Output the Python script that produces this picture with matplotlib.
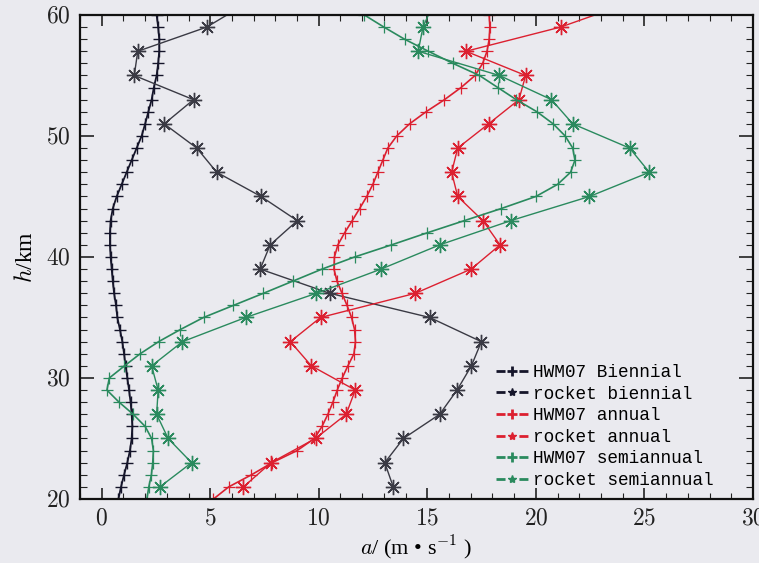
import matplotlib
matplotlib.use('Agg')
import matplotlib.pyplot as plt
from matplotlib.lines import Line2D
from matplotlib.ticker import MultipleLocator

plt.rcParams['mathtext.fontset'] = 'cm'
plt.rcParams['font.family'] = ['Liberation Serif', 'DejaVu Serif']
plt.rcParams['lines.scale_dashes'] = False

# heights (km)
h_hwm = list(range(20, 61))
h_rocket = list(range(21, 62, 2))

# HWM07 model amplitudes, m/s (every 1 km)
hwm_biennial = [0.77, 0.89, 1.03, 1.18, 1.30, 1.38, 1.41, 1.38, 1.33, 1.26,
                1.18, 1.10, 1.03, 0.95, 0.84, 0.72, 0.66, 0.57, 0.51, 0.46,
                0.41, 0.38, 0.38, 0.41, 0.51, 0.69, 0.92, 1.15, 1.38, 1.61,
                1.84, 2.00, 2.15, 2.30, 2.40, 2.53, 2.60, 2.65, 2.65, 2.60,
                2.53]
hwm_annual = [5.15, 5.85, 6.90, 7.85, 9.00, 9.80, 10.15, 10.42, 10.65, 10.85,
              11.08, 11.34, 11.62, 11.69, 11.65, 11.51, 11.30, 11.07, 10.84, 10.70,
              10.72, 10.88, 11.19, 11.54, 11.88, 12.21, 12.49, 12.72, 12.95, 13.18,
              13.59, 14.18, 14.94, 15.79, 16.55, 17.20, 17.55, 17.75, 17.85, 17.88,
              17.85]
hwm_semiannual = [2.08, 2.17, 2.29, 2.35, 2.38, 2.30, 2.00, 1.45, 0.80, 0.24,
                  0.35, 1.05, 1.77, 2.62, 3.62, 4.69, 6.07, 7.45, 8.80, 10.15,
                  11.65, 13.35, 15.00, 16.70, 18.40, 20.00, 21.00, 21.60, 21.80, 21.70,
                  21.35, 20.80, 20.05, 19.10, 18.25, 17.40, 16.18, 15.05, 13.95, 13.00,
                  12.10]

# rocket amplitudes, m/s (every 2 km)
rocket_biennial = [13.43, 13.04, 13.90, 15.57, 16.37, 17.03, 17.49, 15.11, 10.50, 7.30,
                   7.76, 9.01, 7.34, 5.30, 4.38, 2.88, 4.23, 1.50, 1.66, 4.84,
                   6.70]
rocket_annual = [6.53, 7.80, 9.85, 11.26, 11.68, 9.66, 8.69, 10.08, 14.45, 17.02,
                 18.35, 17.56, 16.40, 16.12, 16.40, 17.82, 19.22, 19.53, 16.78, 21.14,
                 24.30]
rocket_semiannual = [2.68, 4.14, 3.06, 2.53, 2.60, 2.30, 3.72, 6.63, 9.89, 12.87,
                     15.57, 18.84, 22.47, 25.23, 24.32, 21.70, 20.72, 18.32, 14.58, 14.80,
                     15.30]

labels = ['HWM07 Biennial', 'rocket biennial', 'HWM07 annual',
          'rocket annual', 'HWM07 semiannual', 'rocket semiannual']

BLACK = '#15152a'
BLACK_R = '#3a3a44'
RED = '#dc2030'
GREEN = '#2a8a5e'
ASTER = (8, 2, 0)
BG = '#eaeaef'

fig = plt.figure(figsize=(7.59, 5.63), dpi=100, facecolor=BG)
ax = fig.add_axes([0.1054, 0.1137, 0.8866, 0.8597], facecolor=BG)

ax.plot(hwm_biennial, h_hwm, color=BLACK, lw=1.3, marker='+', ms=8, mew=1.0)
ax.plot(rocket_biennial, h_rocket, color=BLACK_R, lw=1.0, marker=ASTER, ms=11, mew=1.0)
ax.plot(hwm_annual, h_hwm, color=RED, lw=1.2, marker='+', ms=8, mew=0.9)
ax.plot(rocket_annual, h_rocket, color=RED, lw=1.0, marker=ASTER, ms=11, mew=1.0)
ax.plot(hwm_semiannual, h_hwm, color=GREEN, lw=1.2, marker='+', ms=8, mew=0.9)
ax.plot(rocket_semiannual, h_rocket, color=GREEN, lw=1.0, marker=ASTER, ms=11, mew=1.0)

ax.set_xlim(-1, 30)
ax.set_ylim(20, 60)
ax.set_xticks([0, 5, 10, 15, 20, 25, 30])
ax.set_yticks([20, 30, 40, 50, 60])
ax.set_xticklabels(['$%d$' % v for v in [0, 5, 10, 15, 20, 25, 30]])
ax.set_yticklabels(['$%d$' % v for v in [20, 30, 40, 50, 60]])
ax.xaxis.set_minor_locator(MultipleLocator(1))
ax.yaxis.set_minor_locator(MultipleLocator(1))
ax.tick_params(axis='both', which='both', direction='in', top=True, right=True,
               labelsize=17, colors='#222222')
ax.tick_params(axis='x', which='major', length=8, width=1.2, pad=7)
ax.tick_params(axis='x', which='minor', length=4, width=0.8)
ax.tick_params(axis='y', which='major', length=10, width=1.2, pad=7)
ax.tick_params(axis='y', which='minor', length=5, width=0.8)
for s in ax.spines.values():
    s.set_linewidth(1.6)
    s.set_color('#111111')

ax.set_xlabel(r'$a$/ (m • s$^{-1}$ )', fontsize=16, labelpad=3)
ax.set_ylabel(r'$h$/km', fontsize=17, labelpad=6)

# legend like the original: short dashes either side of the marker
dash = (0, (6.5, 10.0))
handles = [
    Line2D([], [], color=BLACK, lw=2.0, ls=dash, marker='+', ms=7, mew=2.0),
    Line2D([], [], color=BLACK, lw=2.0, ls=dash, marker='*', ms=6),
    Line2D([], [], color=RED, lw=2.0, ls=dash, marker='+', ms=7, mew=2.0),
    Line2D([], [], color=RED, lw=2.0, ls=dash, marker='*', ms=6),
    Line2D([], [], color=GREEN, lw=2.0, ls=dash, marker='+', ms=7, mew=2.0),
    Line2D([], [], color=GREEN, lw=2.0, ls=dash, marker='*', ms=6),
]
ax.legend(handles, labels, loc='upper left', bbox_to_anchor=(496 / 759, 1 - 364 / 563),
          bbox_transform=fig.transFigure, frameon=False, borderpad=0, borderaxespad=0,
          handlelength=1.8, handletextpad=0.3, labelspacing=0.26,
          prop={'family': 'Liberation Mono', 'size': 12.8})

fig.savefig('out.png', dpi=100, facecolor=BG)
